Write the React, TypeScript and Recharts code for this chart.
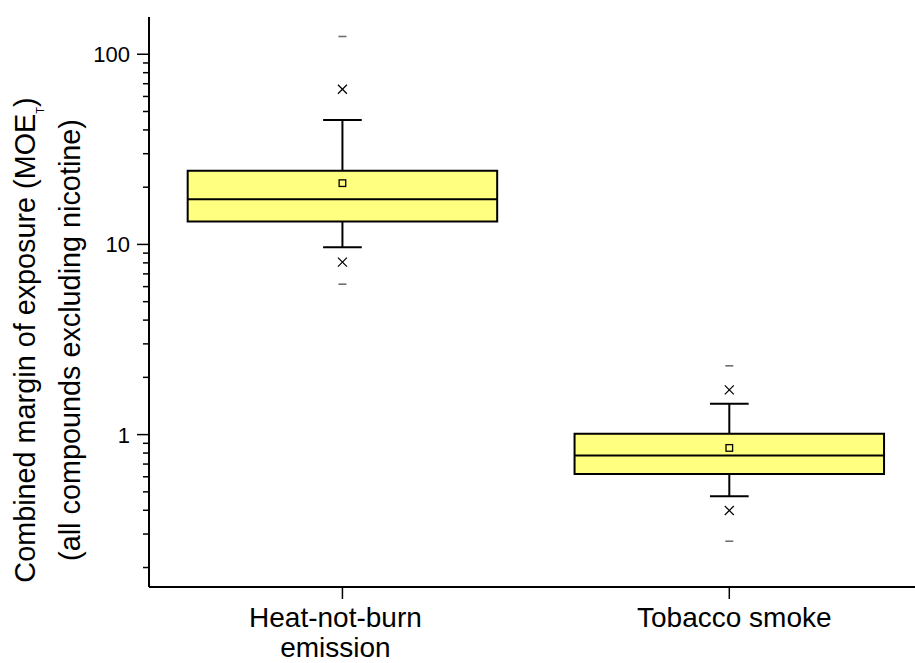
import React from "react";
import {
  ComposedChart,
  XAxis,
  YAxis,
  Scatter,
  ReferenceArea,
  ReferenceLine,
} from "recharts";

// categories (line break marks where the tick label wraps)
const categories = ["Heat-not-burn\nemission", "Tobacco smoke"];
const q1 = [13.2, 0.62];
const median = [17.3, 0.776];
const q3 = [24.4, 1.01];
const whiskerLow = [9.67, 0.474];
const whiskerHigh = [45.1, 1.455];
const means = [21.0, 0.851];
const pctLow = [8.07, 0.399];
const pctHigh = [65.5, 1.72];
const minVals = [6.18, 0.275];
const maxVals = [124, 2.3];

const majorTicks = [1, 10, 100];
const minorTicks = [0.2, 0.3, 0.4, 0.5, 0.6, 0.7, 0.8, 0.9, 2, 3, 4, 5, 6, 7, 8, 9, 20, 30, 40, 50, 60, 70, 80, 90];
const yDomain = [0.158, 157];

const FILL = "#ffff80";
const INK = "#000000";
const DASH = "#707070";
const FONT = "'Liberation Sans', Arial, sans-serif";
const BOX_HALF = 0.4;
const CAP_HALF = 0.05;
const LABEL_SHIFT = [-7, 5];
const TICK_MARGIN = 7;

const pts = (vals: number[]) => vals.map((v, i) => ({ x: i + 1, y: v }));

function Cross(props: any) {
  const { cx, cy } = props;
  const s = 4.5;
  return (
    <g stroke={INK} strokeWidth={1.2}>
      <line x1={cx - s} y1={cy - s} x2={cx + s} y2={cy + s} />
      <line x1={cx - s} y1={cy + s} x2={cx + s} y2={cy - s} />
    </g>
  );
}

function Square(props: any) {
  const { cx, cy } = props;
  return <rect x={cx - 3.3} y={cy - 3.3} width={6.6} height={6.6} fill="none" stroke={INK} strokeWidth={1.3} />;
}

function Dash(props: any) {
  const { cx, cy } = props;
  return <line x1={cx - 4} y1={cy} x2={cx + 4} y2={cy} stroke={DASH} strokeWidth={1.6} />;
}

function CategoryTick(props: any) {
  const { x, y, payload } = props;
  const idx = Math.round(payload.value) - 1;
  const label = categories[idx] ?? "";
  const lines = label.split("\n");
  const cx = x + (LABEL_SHIFT[idx] ?? 0);
  return (
    <text x={cx} y={y} textAnchor="middle" fontSize={28} fill={INK} fontFamily={FONT}>
      {lines.map((l, i) => (
        <tspan key={i} x={cx} dy={i === 0 ? 28 : 30}>
          {l}
        </tspan>
      ))}
    </text>
  );
}

// log axis tick: long tick + label for decades, short tick for the rest
function LogTick(props: any) {
  const { x, y, payload } = props;
  const v = payload.value;
  const axisX = x + 12 + TICK_MARGIN;
  const major = majorTicks.includes(v);
  return (
    <g>
      <line x1={axisX - (major ? 12 : 6)} y1={y} x2={axisX} y2={y} stroke={INK} strokeWidth={1.5} />
      {major && (
        <text x={x} y={y} dy={8} textAnchor="end" fontSize={22} fill={INK} fontFamily={FONT}>
          {String(v)}
        </text>
      )}
    </g>
  );
}

function YTitle() {
  return (
    <g fontFamily={FONT} fontSize={28.8} fill={INK}>
      <text x={35} y={340} textAnchor="middle" transform="rotate(-90, 35, 340)">
        Combined margin of exposure (MOE
        <tspan fontSize={11} dy={9}>T</tspan>
        <tspan dy={-9}>)</tspan>
      </text>
      <text x={80} y={340} textAnchor="middle" transform="rotate(-90, 80, 340)">
        (all compounds excluding nicotine)
      </text>
    </g>
  );
}

export default function App() {
  return (
    <div
      style={{
        position: "absolute",
        left: 0,
        top: 0,
        width: 915,
        height: 663,
        overflow: "hidden",
        background: "#fff",
        fontFamily: FONT,
      }}
    >
      <ComposedChart width={915} height={663} margin={{ top: 17, right: 0, bottom: 0, left: 0 }}>
        <XAxis
          type="number"
          dataKey="x"
          domain={[0.5, 2.48]}
          allowDataOverflow
          ticks={[1, 2]}
          interval={0}
          height={76}
          tickSize={12}
          tickMargin={0}
          axisLine={{ stroke: INK, strokeWidth: 2 }}
          tickLine={{ stroke: INK, strokeWidth: 1.5 }}
          tick={<CategoryTick />}
        />
        <YAxis
          type="number"
          dataKey="y"
          scale="log"
          domain={yDomain}
          allowDataOverflow
          ticks={[...minorTicks, ...majorTicks].sort((a, b) => a - b)}
          interval={0}
          width={149}
          tickSize={12}
          tickMargin={TICK_MARGIN}
          axisLine={{ stroke: INK, strokeWidth: 2 }}
          tickLine={false}
          tick={<LogTick />}
          label={{ content: () => <YTitle /> }}
        />

        {categories.map((c, i) => (
          <ReferenceLine
            key={`wl-${c}`}
            segment={[{ x: i + 1, y: whiskerLow[i] }, { x: i + 1, y: q1[i] }]}
            stroke={INK}
            strokeWidth={2}
          />
        ))}
        {categories.map((c, i) => (
          <ReferenceLine
            key={`wh-${c}`}
            segment={[{ x: i + 1, y: q3[i] }, { x: i + 1, y: whiskerHigh[i] }]}
            stroke={INK}
            strokeWidth={2}
          />
        ))}
        {categories.map((c, i) => (
          <ReferenceLine
            key={`cl-${c}`}
            segment={[{ x: i + 1 - CAP_HALF, y: whiskerLow[i] }, { x: i + 1 + CAP_HALF, y: whiskerLow[i] }]}
            stroke={INK}
            strokeWidth={2}
          />
        ))}
        {categories.map((c, i) => (
          <ReferenceLine
            key={`ch-${c}`}
            segment={[{ x: i + 1 - CAP_HALF, y: whiskerHigh[i] }, { x: i + 1 + CAP_HALF, y: whiskerHigh[i] }]}
            stroke={INK}
            strokeWidth={2}
          />
        ))}
        {categories.map((c, i) => (
          <ReferenceArea
            key={`box-${c}`}
            x1={i + 1 - BOX_HALF}
            x2={i + 1 + BOX_HALF}
            y1={q1[i]}
            y2={q3[i]}
            fill={FILL}
            fillOpacity={1}
            stroke={INK}
            strokeWidth={2}
          />
        ))}
        {categories.map((c, i) => (
          <ReferenceLine
            key={`med-${c}`}
            segment={[{ x: i + 1 - BOX_HALF, y: median[i] }, { x: i + 1 + BOX_HALF, y: median[i] }]}
            stroke={INK}
            strokeWidth={2}
          />
        ))}

        <Scatter data={pts(means)} shape={<Square />} isAnimationActive={false} />
        <Scatter data={pts(pctLow)} shape={<Cross />} isAnimationActive={false} />
        <Scatter data={pts(pctHigh)} shape={<Cross />} isAnimationActive={false} />
        <Scatter data={pts(minVals)} shape={<Dash />} isAnimationActive={false} />
        <Scatter data={pts(maxVals)} shape={<Dash />} isAnimationActive={false} />
      </ComposedChart>
    </div>
  );
}
